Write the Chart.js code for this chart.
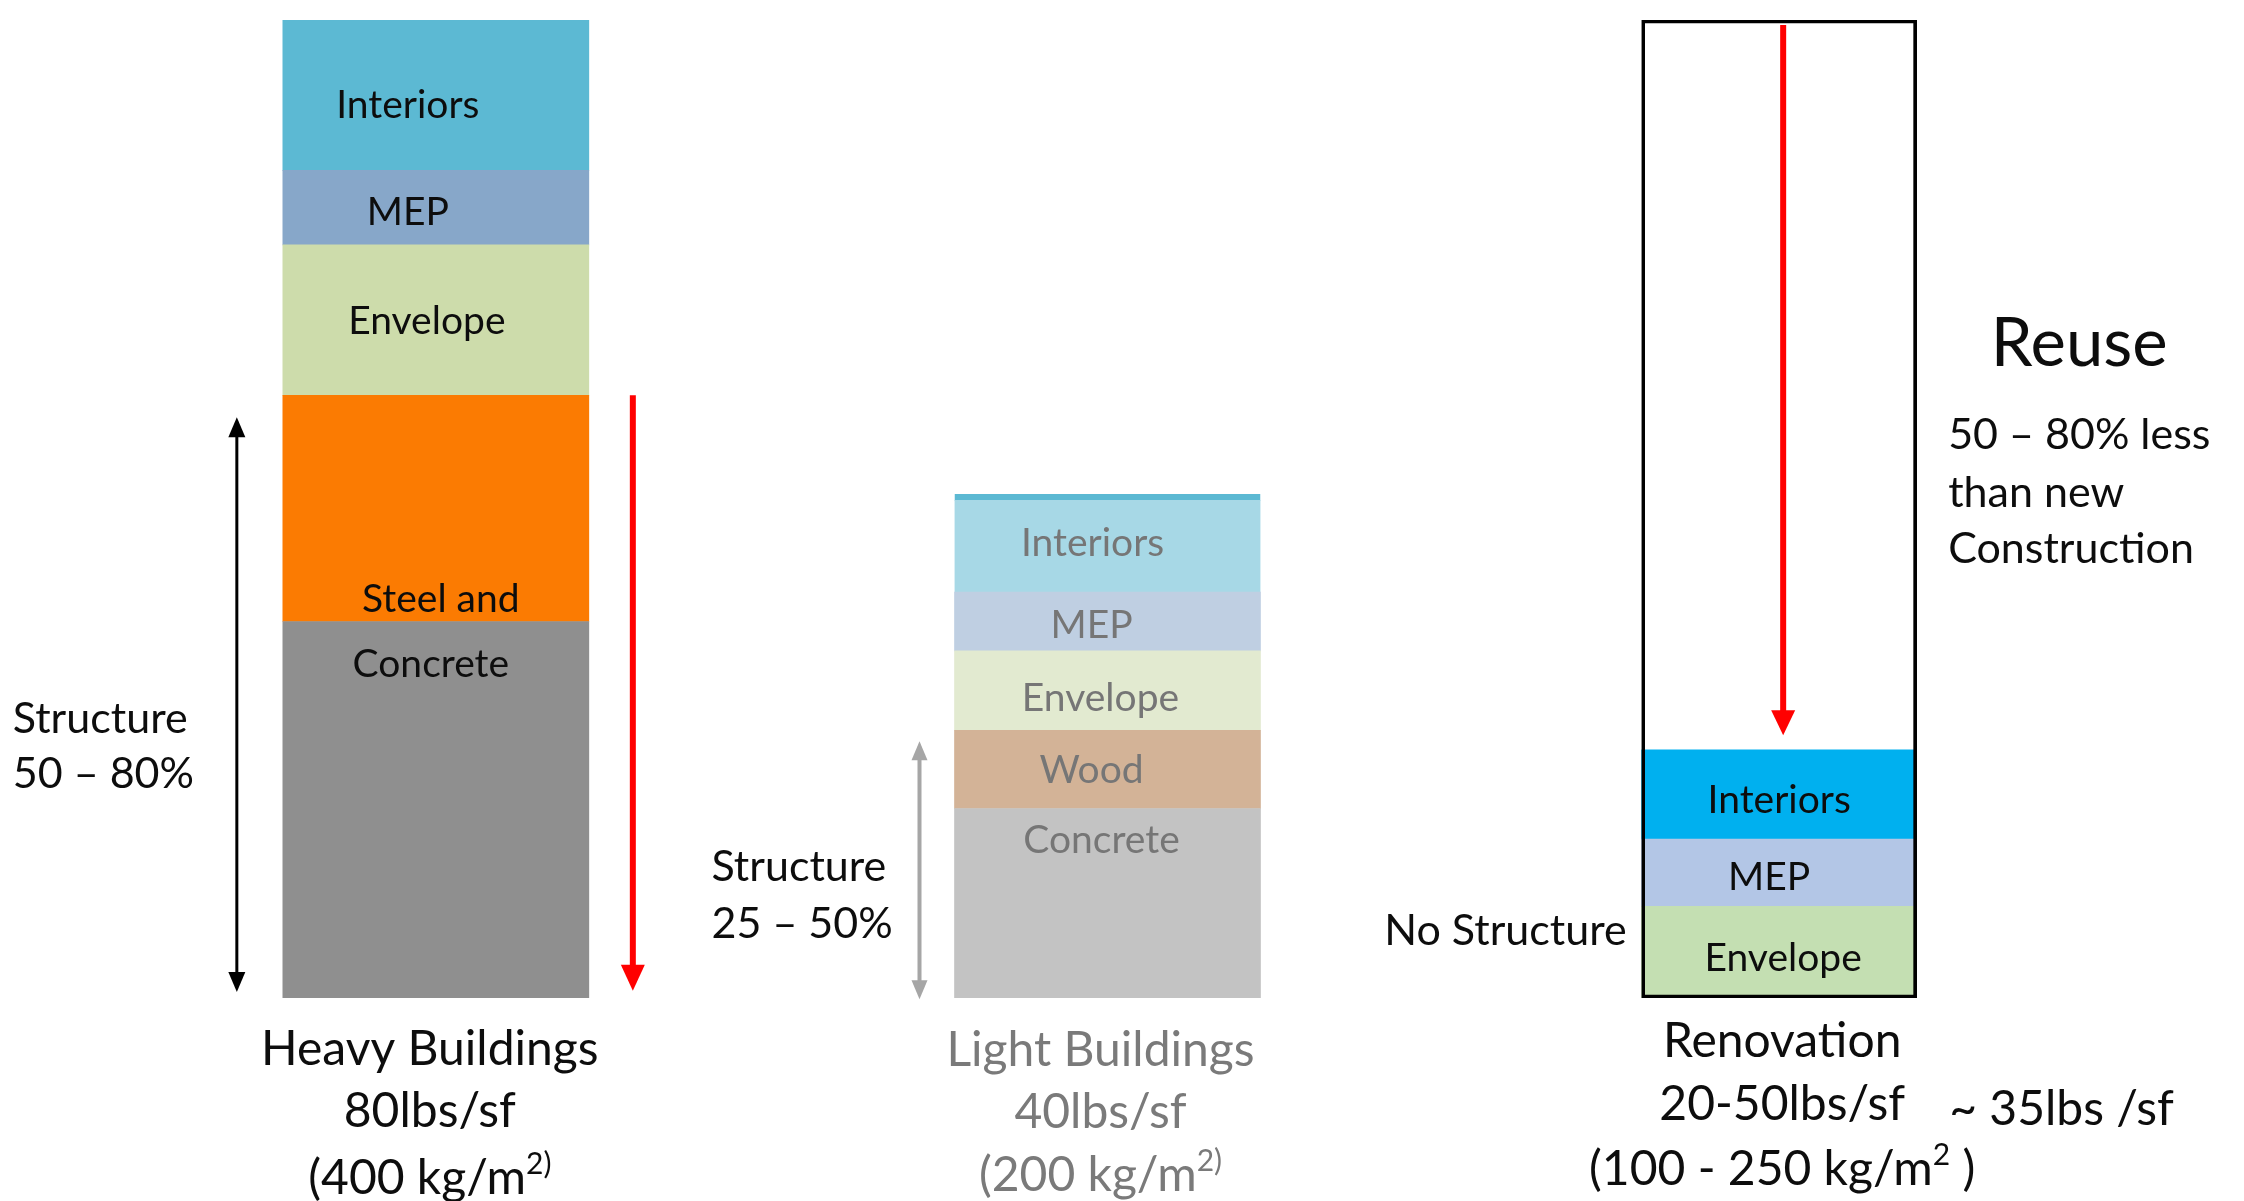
<!DOCTYPE html>
<html lang="en">
<head>
<meta charset="UTF-8">
<title>Embodied Weight: New Build vs Renovation</title>
<script src="https://cdn.jsdelivr.net/npm/chart.js"></script>
<style>
  html, body { margin: 0; padding: 0; background: #fff; }
  #wrap { width: 2244px; height: 1201px; }
</style>
</head>
<body>
<div id="wrap"><canvas id="weightChart" width="2244" height="1201"></canvas></div>
<script>
  const categories = ['Heavy Buildings', 'Light Buildings', 'Renovation'];

  // lbs/sf carried by each layer, bottom to top
  const concrete  = [30.8, 15.5, null];
  const steel     = [18.5, null, null];
  const wood      = [null, 6.4, null];
  const envelope  = [12.3, 6.5, 7.5];
  const mep       = [6.1, 4.8, 5.5];
  const interiors = [12.3, 8.0, 7.3];

  // full new-build weight outlined around the renovation column
  const newBuildWeight = [null, null, 80];

  // structure share arrows (lbs/sf)
  const heavyStructureSpan = [47.5, 0.5];
  const lightStructureSpan = [21.0, -0.1];

  const FONT = 'Lato, "Open Sans", sans-serif';
  const INK = '#0d0d0d';
  const FADED = '#7a7a7a';
  const NEW_WIDTH = 306;
  const RENO_WIDTH = 275;
  const LABEL_SIZE = 39;
  const NOTE_SIZE = 43;
  const CAPTION_SIZE = 48;

  const layers = [
    { label: 'Concrete', data: concrete, colors: ['#8f8f8f', '#c3c3c3', null] },
    { label: 'Steel', text: 'Steel and', data: steel, colors: ['#fb7b02', null, null] },
    { label: 'Wood', data: wood, colors: [null, '#d3b397', null] },
    { label: 'Envelope', data: envelope, colors: ['#cddcab', '#e2ead0', '#c4dfb2'] },
    { label: 'MEP', data: mep, colors: ['#87a7c9', '#bfcfe2', '#b3c6e6'] },
    { label: 'Interiors', data: interiors, colors: ['#5cb9d3', '#a7d8e6', '#00b0ef'] }
  ];

  // label nudges per column (x from bar centre, y from segment middle)
  const labelNudge = {
    Interiors: [[-28, 10], [-15, 0], [0, 6]],
    MEP: [[-28, 5], [-16, 4], [-10, 5]],
    Envelope: [[-9, 1], [-7, 8], [4, 6]],
    Wood: [[0, 0], [-16, 1], [0, 0]],
    Steel: [[5, 0], [0, 0], [0, 0]],
    Concrete: [[-5, 0], [-6, 0], [0, 0]]
  };

  const datasets = [{
    label: 'New construction',
    data: newBuildWeight,
    stack: 'outline',
    grouped: false,
    order: -1,
    barThickness: RENO_WIDTH,
    maxBarThickness: RENO_WIDTH,
    backgroundColor: 'rgba(0,0,0,0)',
    borderColor: '#000',
    borderWidth: 3,
    borderSkipped: false
  }];

  layers.forEach(layer => {
    const newPart = layer.data.map((v, i) => (i < 2 ? v : null));
    const renoPart = layer.data.map((v, i) => (i === 2 ? v : null));
    if (newPart.some(v => v != null)) {
      datasets.push({
        label: layer.label,
        text: layer.text || layer.label,
        data: newPart,
        stack: 'layers',
        barThickness: NEW_WIDTH,
        backgroundColor: layer.colors,
        borderColor: '#5cb9d3',
        borderWidth: layer.label === 'Interiors'
          ? (c => (c.dataIndex === 1 ? { top: 6, right: 0, bottom: 0, left: 0 } : 0))
          : 0
      });
    }
    if (renoPart.some(v => v != null)) {
      datasets.push({
        label: layer.label,
        text: layer.text || layer.label,
        data: renoPart,
        stack: 'layers',
        barThickness: RENO_WIDTH,
        backgroundColor: layer.colors,
        borderWidth: 0
      });
    }
  });

  function drawArrow(ctx, px, yFrom, yTo, color, lw, headW, headH, both) {
    const dir = Math.sign(yTo - yFrom);
    ctx.save();
    ctx.strokeStyle = color;
    ctx.fillStyle = color;
    ctx.lineWidth = lw;
    ctx.beginPath();
    ctx.moveTo(px, both ? yFrom + dir * headH * 0.8 : yFrom);
    ctx.lineTo(px, yTo - dir * headH * 0.8);
    ctx.stroke();
    const head = (tip, d) => {
      ctx.beginPath();
      ctx.moveTo(px, tip);
      ctx.lineTo(px - headW / 2, tip - d * headH);
      ctx.lineTo(px + headW / 2, tip - d * headH);
      ctx.closePath();
      ctx.fill();
    };
    head(yTo, dir);
    if (both) head(yFrom, -dir);
    ctx.restore();
  }

  // runs: [[text, isSuperscript], ...]
  function drawRuns(ctx, runs, px, py, size, color, align) {
    ctx.save();
    ctx.fillStyle = color;
    ctx.textBaseline = 'middle';
    ctx.textAlign = 'left';
    const fontFor = sup => (sup ? Math.round(size * 0.62) : size) + 'px ' + FONT;
    let total = 0;
    runs.forEach(([t, sup]) => { ctx.font = fontFor(sup); total += ctx.measureText(t).width; });
    let cur = align === 'center' ? px - total / 2 : align === 'right' ? px - total : px;
    runs.forEach(([t, sup]) => {
      ctx.font = fontFor(sup);
      ctx.fillText(t, cur, sup ? py - size * 0.3 : py);
      cur += ctx.measureText(t).width;
    });
    ctx.restore();
  }

  function drawText(ctx, t, px, py, size, color, align) {
    drawRuns(ctx, [[t, false]], px, py, size, color, align || 'center');
  }

  const annotations = {
    id: 'annotations',
    afterDatasetsDraw(chart) {
      const { ctx, scales: { x, y } } = chart;
      const cx = i => x.getPixelForValue(i);

      // segment labels
      chart.data.datasets.forEach((ds, di) => {
        if (!ds.text) return;
        const meta = chart.getDatasetMeta(di);
        meta.data.forEach((bar, i) => {
          if (ds.data[i] == null) return;
          const nudge = (labelNudge[ds.label] || [])[i] || [0, 0];
          const color = i === 1 ? '#767676' : INK;
          const top = Math.min(bar.y, bar.base);
          const bottom = Math.max(bar.y, bar.base);
          let ty = (top + bottom) / 2 + nudge[1];
          if (ds.label === 'Steel') ty = bottom - 22;
          if (ds.label === 'Concrete') ty = top + (i === 0 ? 43 : 32);
          drawText(ctx, ds.text, bar.x + nudge[0], ty, LABEL_SIZE, color);
        });
      });

      // structure arrows
      const heavyTop = concrete[0] + steel[0];
      drawArrow(ctx, cx(0) - 199, y.getPixelForValue(heavyStructureSpan[0]),
        y.getPixelForValue(heavyStructureSpan[1]), '#000', 3, 17, 20, true);
      drawArrow(ctx, cx(0) + 197, y.getPixelForValue(heavyTop),
        y.getPixelForValue(0.6), '#ff0000', 6, 24, 26, false);
      drawArrow(ctx, cx(1) - 188, y.getPixelForValue(lightStructureSpan[0]),
        y.getPixelForValue(lightStructureSpan[1]), '#a6a6a6', 4, 16, 19, true);
      const renoTop = envelope[2] + mep[2] + interiors[2];
      drawArrow(ctx, cx(2) + 4, y.getPixelForValue(newBuildWeight[2] - 0.4),
        y.getPixelForValue(renoTop + 1.2), '#ff0000', 6, 24, 25, false);

      // side notes
      drawText(ctx, 'Structure', cx(0) - 423, 719, NOTE_SIZE, INK, 'left');
      drawText(ctx, '50 \u2013 80%', cx(0) - 423, 774, NOTE_SIZE, INK, 'left');
      drawText(ctx, 'Structure', cx(1) - 396, 867, NOTE_SIZE, INK, 'left');
      drawText(ctx, '25 \u2013 50%', cx(1) - 396, 924, NOTE_SIZE, INK, 'left');
      drawText(ctx, 'No Structure', cx(2) - RENO_WIDTH / 2 - 15, 931, NOTE_SIZE, INK, 'right');

      // captions under each column
      drawText(ctx, categories[0], cx(0) - 6, 1050, CAPTION_SIZE, INK);
      drawText(ctx, '80lbs/sf', cx(0) - 6, 1112, CAPTION_SIZE, INK);
      drawRuns(ctx, [['(400 kg/m', false], ['2)', true]], cx(0) - 6, 1179, CAPTION_SIZE, INK, 'center');

      drawText(ctx, categories[1], cx(1) - 7, 1051, CAPTION_SIZE, FADED);
      drawText(ctx, '40lbs/sf', cx(1) - 7, 1113, CAPTION_SIZE, FADED);
      drawRuns(ctx, [['(200 kg/m', false], ['2)', true]], cx(1) - 7, 1176, CAPTION_SIZE, FADED, 'center');

      drawText(ctx, categories[2], cx(2) + 3, 1042, CAPTION_SIZE, INK);
      drawText(ctx, '20-50lbs/sf', cx(2) + 3, 1105, CAPTION_SIZE, INK);
      drawText(ctx, '~ 35lbs /sf', cx(2) + 170, 1110, CAPTION_SIZE, INK, 'left');
      drawRuns(ctx, [['(100 - 250 kg/m', false], ['2', true], [' )', false]], cx(2) + 3, 1170, CAPTION_SIZE, INK, 'center');

      // reuse note
      drawText(ctx, 'Reuse', cx(2) + 300, 344, 67, INK);
      drawText(ctx, '50 \u2013 80% less', cx(2) + 169, 435, NOTE_SIZE, INK, 'left');
      drawText(ctx, 'than new', cx(2) + 169, 493, NOTE_SIZE, INK, 'left');
      drawText(ctx, 'Construction', cx(2) + 169, 549, NOTE_SIZE, INK, 'left');
    }
  };

  new Chart(document.getElementById('weightChart').getContext('2d'), {
    type: 'bar',
    data: { labels: categories, datasets },
    options: {
      responsive: false,
      animation: false,
      layout: { padding: { top: 20, bottom: 203, left: 100, right: 129 } },
      scales: {
        x: { stacked: true, display: false, offset: true },
        y: { stacked: true, display: false, min: 0, max: 80 }
      },
      plugins: {
        legend: { display: false },
        tooltip: { enabled: false }
      }
    },
    plugins: [annotations]
  });
</script>
</body>
</html>
